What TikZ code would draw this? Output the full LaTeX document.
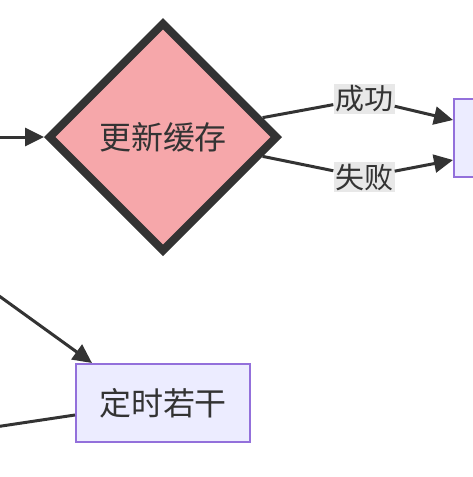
\documentclass[tikz,border=0pt]{standalone}
\usepackage{fontspec}
\newfontfamily\cjk{Noto Sans CJK SC}
\usetikzlibrary{shapes.geometric,arrows.meta}
\definecolor{trait}{RGB}{51,51,51}
\definecolor{rose}{RGB}{246,167,170}
\definecolor{boite}{RGB}{236,236,255}
\definecolor{bord}{RGB}{147,112,219}
\definecolor{etiq}{RGB}{232,232,232}
\tikzset{
	boitestyle/.style={draw=bord, fill=boite, line width=2pt, minimum width=174pt, minimum height=78pt, inner sep=0pt, text=trait, font=\cjk\fontsize{32}{38}\selectfont},
	losange/.style={diamond, aspect=1, draw=trait, fill=rose, line width=8pt, minimum width=230pt, minimum height=230pt, inner sep=0pt, text=trait, font=\cjk\fontsize{32}{38}\selectfont},
	etiqstyle/.style={fill=etiq, inner sep=1.5pt, text=trait, font=\cjk\fontsize{29}{32}\selectfont},
	fleche/.style={line width=3pt, draw=trait, -{Triangle[length=19pt,width=18pt]}},
	ligne/.style={line width=3pt, draw=trait}
}

\begin{document}
\begin{tikzpicture}[x=1pt, y=-1pt]
	\useasboundingbox (0,0) rectangle (473,477);
	\clip (0,0) rectangle (473,477);

	% losange
	\node[losange] (maj) at (163,137) {更新缓存};

	% boites
	\node[boitestyle] (res) at (541,138) {};
	\node[boitestyle] (tim) at (163,403) {定时若干};

	% etiquettes
	\node[etiqstyle] (ok) at (364,99) {成功};
	\node[etiqstyle] (ko) at (364,177) {失败};

	% bouts libres
	\coordinate (e1) at (-5,137);
	\coordinate (e2) at (-5,293);
	\coordinate (s1) at (-5,427);

	% fleches
	\draw[fleche] (e1) -- (maj.west);
	\draw[fleche] (maj.11) -- (ok) -- ([yshift=18pt]res.west);
	\draw[fleche] (maj.-11) -- (ko) -- ([yshift=-22pt]res.west);
	\draw[fleche] (e2) -- ([xshift=17pt]tim.north west);
	\draw[ligne] ([yshift=-12pt]tim.west) -- (s1);
\end{tikzpicture}
\end{document}
